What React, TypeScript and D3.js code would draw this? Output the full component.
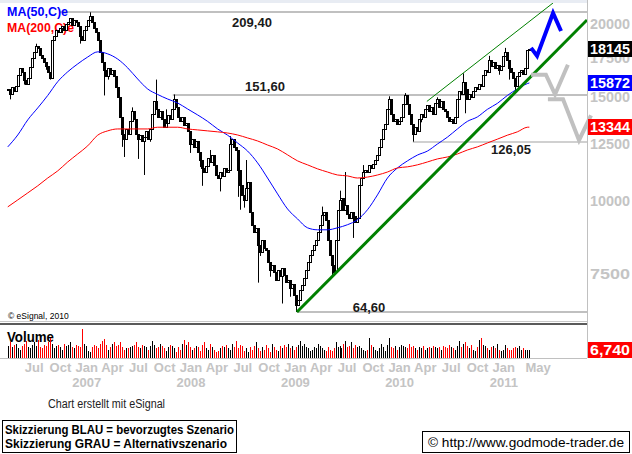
import React from "react";
import * as d3 from "d3";

// weekly closes, first week starting 2006-03-27
const startWeek = new Date(2006, 2, 27);
const closes = [
  15470, 15170, 15590, 15350, 15710, 16390, 16840, 16580, 16080, 15830,
  16200, 16910, 17510, 17930, 18350, 18210, 17720, 17510, 17240, 16980,
  16580, 16200, 18790, 19080, 19540, 19380, 19690, 19840, 19540, 20000,
  20160, 20480, 19920, 20320, 20160, 19840, 19080, 18790, 19540, 19840,
  20320, 20640, 20160, 19690, 19380, 18790, 17930, 17240, 16710, 16330,
  16840, 16460, 16710, 16330, 15590, 15000, 13870, 12980, 12730, 13240,
  12980, 13650, 14200, 13760, 12980, 12730, 12930, 12630, 12830, 13130,
  12730, 13240, 14030, 14760, 14310, 13870, 14200, 13760, 13340, 13550,
  13980, 13760, 14310, 14880, 14420, 13870, 13650, 13870, 13440, 13550,
  13130, 12490, 12730, 12340, 12630, 12100, 11730, 11370, 11190, 11460,
  11820, 11640, 11960, 11500, 11060, 10930, 11190, 11020, 11370, 11190,
  11280, 12490, 12730, 12340, 12200, 11280, 10640, 10230, 10030, 10510,
  10760, 9580, 9100, 8850, 8990, 8410, 8180, 8580, 8310, 8250,
  7870, 7630, 7780, 7570, 7330, 7630, 7450, 7690, 7480, 7280,
  7330, 7110, 7220, 6910, 6650, 6780, 7050, 7190, 7390, 7630,
  7870, 8090, 8250, 8410, 8580, 8850, 9100, 9470, 9580, 9280,
  8580, 8090, 7780, 7570, 8580, 9650, 10030, 10110, 9650, 9840,
  9500, 9360, 9580, 9430, 9210, 9360, 10640, 10930, 11190, 11280,
  11190, 11500, 11370, 11550, 11730, 11960, 12340, 12730, 13240, 13500,
  14310, 14880, 14030, 13650, 13760, 13500, 13650, 13870, 14590, 15110,
  14590, 14030, 13500, 12980, 13340, 13130, 13760, 14030, 13870, 14310,
  14540, 14200, 14420, 14030, 14650, 14880, 14420, 14760, 14310, 14200,
  13870, 13650, 13760, 13550, 13870, 14880, 15350, 15170, 15950, 15470,
  14880, 15170, 15000, 15350, 15590, 15470, 15830, 15710, 16390, 16710,
  16580, 17380, 16980, 17240, 16840, 17040, 16710, 16980, 17650, 17930,
  17380, 16840, 16580, 16200, 15710, 16330, 16580, 16710, 16460, 16840,
  18070, 18145,
];

// wicks that reach past the bodies: [week, price]
const highWicks: [number, number][] = [
  [14, 18510], [41, 20940], [56, 14880], [62, 14420], [74, 16080], [79, 14310],
  [83, 15170], [101, 12200], [111, 12880], [119, 11730], [157, 9770], [166, 10400],
  [169, 11190], [178, 11500], [191, 15060], [199, 15250], [215, 15000], [228, 16480],
  [241, 17650], [249, 18210],
];
const lowWicks: [number, number][] = [
  [1, 14880], [8, 15770], [19, 16710], [21, 16080], [27, 19300], [36, 18520],
  [48, 15110], [50, 16080], [57, 12350], [58, 11870], [65, 11780], [68, 11060],
  [71, 12600], [91, 12060], [96, 11410], [97, 10600], [106, 10370], [115, 10150],
  [116, 9650], [118, 9730], [125, 7250], [126, 8050], [131, 7420], [137, 6680],
  [141, 6860], [144, 6460], [162, 7390], [173, 8640], [203, 12605], [207, 13600],
  [229, 14090], [246, 16390], [251, 16080], [254, 15350], [259, 16390],
];

const volumes = [
  10, 13, 9, 11, 12, 8, 7, 10, 12, 14, 9,
  8, 11, 13, 10, 15, 9, 8, 11, 10, 13,
  17, 12, 8, 10, 11, 9, 7, 12, 10, 11,
  13, 9, 8, 11, 10, 9, 24, 12, 10, 6,
  5, 9, 11, 10, 8, 12, 14, 16, 11, 7,
  9, 12, 13, 10, 11, 13, 9, 7, 8, 8,
  9, 10, 11, 13, 9, 8, 11, 10, 9, 7,
  10, 14, 11, 8, 9, 12, 10, 8, 6, 9,
  11, 10, 8, 5, 9, 7, 12, 15, 11, 13,
  9, 7, 8, 10, 9, 6, 11, 13, 8, 7,
  12, 9, 7, 5, 6, 8, 10, 9, 11, 8,
  7, 12, 9, 14, 8, 11, 10, 6, 8, 5,
  9, 7, 10, 13, 8, 6, 9, 7, 11, 8,
  5, 12, 9, 7, 6, 10, 8, 11, 9, 12,
  8, 10, 7, 9, 11, 14, 10, 12, 9, 8,
  6, 7, 9, 8, 12, 10, 8, 7, 6, 9,
  7, 6, 8, 13, 9, 10, 8, 12, 14, 9,
  10, 13, 8, 11, 9, 10, 8, 7, 6, 7,
  17, 11, 9, 7, 6, 8, 12, 9, 6, 11,
  17, 9, 8, 10, 7, 9, 11, 10, 9, 8,
  12, 9, 10, 8, 7, 9, 8, 10, 7, 8,
  9, 8, 10, 9, 8, 9, 7, 10, 9, 8,
  11, 9, 8, 7, 10, 14, 9, 12, 13, 10,
  8, 11, 7, 6, 9, 15, 17, 11, 10, 8,
  7, 9, 10, 8, 12, 7, 6, 7, 11, 8,
  7, 7, 8, 9, 8, 10, 7, 8, 7, 7, 6.74,
];

// moving averages sampled every 5 weeks (+ last week)
const maWeeks = [...d3.range(0, 261, 5), 261];
const ma50 = [
  12350, 12940, 13730, 14390, 15110, 15950, 16580, 17100, 17570, 17930,
  17790, 17430, 16840, 16120, 15500, 15170, 14900, 14670, 14330, 14000,
  13650, 13250, 12930, 12540, 12150, 11600, 10930, 10270, 9680, 9310,
  8990, 8920, 8920, 8990, 9100, 9280, 9650, 10230, 10930, 11370,
  11690, 11960, 12150, 12490, 12830, 13250, 13650, 13890, 14310, 14650,
  15110, 15500, 15830, 15872,
];
const ma200 = [
  9760, 10030, 10310, 10600, 10930, 11240, 11640, 12010, 12400, 12930,
  13150, 13250, 13250, 13250, 13250, 13340, 13340, 13340, 13250, 13200,
  13150, 13100, 13040, 12940, 12790, 12640, 12440, 12250, 11970, 11690,
  11510, 11330, 11190, 11060, 11020, 10930, 10970, 11060, 11190, 11370,
  11420, 11510, 11640, 11780, 11870, 12010, 12200, 12350, 12540, 12730,
  12930, 13100, 13340, 13344,
];

const levels = [
  { price: 20940, label: "209,40", from: "2006-09-26" },
  { price: 15160, label: "151,60", from: "2007-10-26" },
  { price: 12605, label: "126,05", from: "2010-02-13" },
  { price: 6460, label: "64,60", from: "2009-01-03" },
];
const supportLine = [
  { date: "2009-01-03", price: 6460 },
  { date: "2011-10-16", price: 20320 },
];
const channelLine = [
  { date: "2010-04-03", price: 14760 },
  { date: "2011-06-19", price: 21720 },
];
const blueScenario = [
  { date: "2011-04-03", price: 18210 },
  { date: "2011-04-24", price: 17650 },
  { date: "2011-06-19", price: 20880 },
  { date: "2011-07-17", price: 19460 },
];
const greyScenarioA = [
  { date: "2011-04-03", price: 16390 },
  { date: "2011-05-25", price: 16390 },
  { date: "2011-06-26", price: 15170 },
  { date: "2011-08-10", price: 17040 },
];
const greyScenarioB = [
  { date: "2011-06-01", price: 14880 },
  { date: "2011-07-24", price: 14880 },
  { date: "2011-09-18", price: 12680 },
  { date: "2011-10-30", price: 13980 },
];

const priceTicks = [20000, 17500, 15000, 12500, 10000, 7500];
const monthTicks = [
  "2006-07", "2006-10", "2007-01", "2007-04", "2007-07", "2007-10",
  "2008-01", "2008-04", "2008-07", "2008-10", "2009-01", "2009-04",
  "2009-07", "2009-10", "2010-01", "2010-04", "2010-07", "2010-10",
  "2011-01", "2011-05",
];
const lastMarks = [
  { value: 18145, text: "18145", color: "#000000" },
  { value: 15872, text: "15872", color: "#0000ff" },
  { value: 13344, text: "13344", color: "#ff0000" },
];

const FONT = "'Liberation Sans', Arial, Helvetica, sans-serif";
const parse = d3.timeParse("%Y-%m-%d");
const parseMonth = d3.timeParse("%Y-%m");
const deFormat = d3.formatLocale({ decimal: ",", thousands: ".", grouping: [3], currency: ["", "€"] }).format(".3f");

export default function App() {
  const W = 632, H = 454, plotR = 587;
  const x = d3.scaleTime().domain([new Date(2006, 0, 1), new Date(2012, 0, 1)]).range([-16.5, 609]);
  const y = d3.scaleLog().domain([7500, 20000]).range([274, 24]);
  const yv = d3.scaleLinear().domain([0, 25]).range([358, 328]);
  const weekDate = (i: number) => d3.timeDay.offset(startWeek, 7 * i);
  const hiMap = new Map(highWicks);
  const loMap = new Map(lowWicks);

  const maLine = d3.line<number>().x((_, k) => x(weekDate(maWeeks[k]))).y((v) => y(v)).curve(d3.curveMonotoneX);
  const pLine = d3.line<{ date: string; price: number }>().x((d) => x(parse(d.date)!)).y((d) => y(d.price));
  const levelLabels: [number, number][] = [[252, 27], [265, 91], [511, 154], [369, 312]];

  return (
    <svg width={W} height={H} style={{ position: "absolute", left: 0, top: 0, background: "#fff" }} fontFamily={FONT}>
      <defs>
        <clipPath id="plot"><rect x={0} y={3} width={plotR} height={318} /></clipPath>
      </defs>
      <rect x={0} y={0} width={plotR} height={3} fill="#e8ecf3" />

      {/* horizontal levels */}
      {levels.map((l) => (
        <line key={l.label} x1={x(parse(l.from)!)} x2={plotR} y1={Math.round(y(l.price))} y2={Math.round(y(l.price))}
          stroke="#c0c0c0" strokeWidth={l.label === "126,05" ? 1.5 : 2} />
      ))}

      {/* legend */}
      <text x={7} y={16} fill="#0000ff" fontSize={13} fontWeight="bold" textLength={61} lengthAdjust="spacingAndGlyphs">MA(50,C)e</text>
      <text x={7} y={32} fill="#ff0000" fontSize={13} fontWeight="bold" textLength={67} lengthAdjust="spacingAndGlyphs">MA(200,C)e</text>

      <g clipPath="url(#plot)">
        {closes.map((c, i) => {
          const o = i > 0 ? closes[i - 1] : c;
          const cx = Math.round(x(weekDate(i)));
          const yt = Math.round(y(Math.max(o, c)));
          const yb = Math.round(y(Math.min(o, c)));
          const hi = hiMap.get(i);
          const lo = loMap.get(i);
          return (
            <g key={i}>
              {hi !== undefined && <line x1={cx + 0.5} x2={cx + 0.5} y1={y(hi)} y2={yt} stroke="#000" />}
              {lo !== undefined && <line x1={cx + 0.5} x2={cx + 0.5} y1={yb} y2={y(lo)} stroke="#000" />}
              <rect x={cx - 0.5} y={yt + 0.5} width={2} height={Math.max(1, yb - yt)}
                fill={c >= o ? "#fff" : "#000"} stroke="#000" />
            </g>
          );
        })}
        <path d={maLine(ma50) || ""} fill="none" stroke="#0000ff" strokeWidth={1} />
        <path d={maLine(ma200) || ""} fill="none" stroke="#ff0000" strokeWidth={1} />
        <path d={pLine(supportLine) || ""} fill="none" stroke="#008000" strokeWidth={3} />
        <path d={pLine(channelLine) || ""} fill="none" stroke="#008000" strokeWidth={1} />
      </g>

      {/* scenarios */}
      <path d={pLine(greyScenarioA) || ""} fill="none" stroke="#c0c0c0" strokeWidth={4} strokeLinejoin="miter" />
      <path d={pLine(greyScenarioB) || ""} fill="none" stroke="#c0c0c0" strokeWidth={4} strokeLinejoin="miter" />
      <path d={pLine(blueScenario) || ""} fill="none" stroke="#0000ff" strokeWidth={4} strokeLinejoin="miter" />

      {levels.map((l, k) => (
        <text key={l.label} x={levelLabels[k][0]} y={levelLabels[k][1]} textAnchor="middle" fontSize={13}
          fontWeight="bold" fill="#1a1a1a">{l.label}</text>
      ))}

      <text x={8} y={319} fontSize={8.5} fill="#000">© eSignal, 2010</text>

      {/* panel separators */}
      <line x1={0} x2={plotR} y1={321.5} y2={321.5} stroke="#c8c8c8" />
      <rect x={0} y={323} width={plotR} height={2} fill="#5a5a5a" />
      <line x1={plotR + 0.5} x2={plotR + 0.5} y1={0} y2={358} stroke="#c0c0c0" />
      <line x1={0} x2={plotR} y1={358.5} y2={358.5} stroke="#c0c0c0" />

      {/* volume */}
      <text x={7} y={342} fontSize={14} fontWeight="bold" fill="#000" textLength={47} lengthAdjust="spacingAndGlyphs">Volume</text>
      {volumes.map((v, i) => {
        const o = i > 0 ? closes[i - 1] : closes[i];
        const cx = Math.round(x(weekDate(i)));
        return <rect key={i} x={cx} y={Math.round(yv(v))} width={1} height={358 - Math.round(yv(v))}
          fill={closes[i] < o ? "#ff0000" : "#000"} />;
      })}

      {/* time axis */}
      {monthTicks.map((m) => {
        const d = parseMonth(m)!;
        const tx = x(d) - 1;
        return (
          <g key={m}>
            <text x={tx} y={372} textAnchor="middle" fontSize={13} fontWeight="bold" fill="#c4c4c4">{d3.timeFormat("%b")(d)}</text>
            {d.getMonth() === 0 && (
              <text x={tx} y={387} textAnchor="middle" fontSize={13} fontWeight="bold" fill="#c4c4c4">{d3.timeFormat("%Y")(d)}</text>
            )}
          </g>
        );
      })}

      {/* price axis */}
      {priceTicks.map((t) => (
        <text key={t} x={590} y={y(t) + 5} fontSize={14} fontWeight="bold" fill="#c4c4c4" textLength={40} lengthAdjust="spacingAndGlyphs">{t}</text>
      ))}
      {lastMarks.map((m) => (
        <g key={m.text}>
          <rect x={plotR + 1} y={Math.round(y(m.value)) - 8} width={W - plotR - 1} height={16} fill={m.color} />
          <text x={590} y={Math.round(y(m.value)) + 5} fontSize={14} fontWeight="bold" fill="#fff" textLength={40} lengthAdjust="spacingAndGlyphs">{m.text}</text>
        </g>
      ))}
      <rect x={plotR + 1} y={342} width={W - plotR - 1} height={16} fill="#ff0000" />
      <text x={590} y={355} fontSize={14} fontWeight="bold" fill="#fff" textLength={40} lengthAdjust="spacingAndGlyphs">{deFormat(volumes[volumes.length - 1])}</text>

      {/* footer */}
      <text x={48} y={408} fontSize={12} fill="#222" textLength={117} lengthAdjust="spacingAndGlyphs">Chart erstellt mit eSignal</text>
      <rect x={2.5} y={420.5} width={234} height={32} fill="none" stroke="#000" />
      <text x={5} y={434} fontSize={12} fontWeight="bold" fill="#000" textLength={229} lengthAdjust="spacingAndGlyphs">Skizzierung BLAU = bevorzugtes Szenario</text>
      <text x={5} y={448} fontSize={12} fontWeight="bold" fill="#000" textLength={222} lengthAdjust="spacingAndGlyphs">Skizzierung GRAU = Alternativszenario</text>
      <rect x={422.5} y={431.5} width={207} height={21} fill="#fff" stroke="#000" />
      <text x={428} y={447} fontSize={12} fill="#000" textLength={196} lengthAdjust="spacingAndGlyphs">© http://www.godmode-trader.de</text>
    </svg>
  );
}
